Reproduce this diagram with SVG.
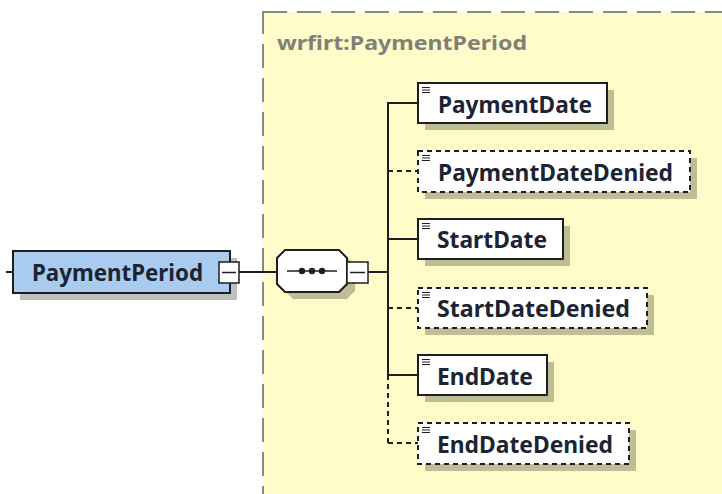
<svg xmlns="http://www.w3.org/2000/svg" width="722" height="494" viewBox="0 0 722 494">
<style>
.lbl{font-family:"Noto Sans","Liberation Sans",sans-serif;font-weight:bold;fill:#1c2433;font-size:24px}
.box{fill:#ffffff;stroke:#1e1e1e;stroke-width:2}
.opt{fill:#ffffff;stroke:#1e1e1e;stroke-width:2;stroke-dasharray:5 4}
.sh{fill:#000;opacity:0.25}
.ln{stroke:#1e1e1e;stroke-width:2;fill:none}
.dl{stroke:#1e1e1e;stroke-width:2;fill:none;stroke-dasharray:5 4}
.ic{stroke:#1e1e1e;stroke-width:1.2}
</style>
<rect width="722" height="494" fill="#ffffff"/>
<g id="type-box">
<rect x="263" y="12" width="480" height="500" fill="#fffcc9" stroke="#8a8a80" stroke-width="2" stroke-dasharray="24 10"/>
<text x="277" y="50" textLength="250" lengthAdjust="spacingAndGlyphs" style="font-family:'Noto Sans','Liberation Sans',sans-serif;font-weight:bold;font-size:20px;fill:#808078">wrfirt:PaymentPeriod</text>
</g>
<g id="connectors">
<line class="ln" x1="6" y1="272" x2="13" y2="272"/>
<line class="ln" x1="239" y1="272" x2="277" y2="272"/>
<line class="ln" x1="368" y1="272" x2="388" y2="272"/>
<line class="ln" x1="388" y1="102" x2="388" y2="375"/>
<line class="dl" x1="388" y1="375" x2="388" y2="443"/>
<line class="ln" x1="387" y1="103" x2="418" y2="103"/>
<line class="dl" x1="388" y1="171" x2="418" y2="171"/>
<line class="ln" x1="387" y1="239" x2="418" y2="239"/>
<line class="dl" x1="388" y1="308" x2="418" y2="308"/>
<line class="ln" x1="387" y1="375" x2="418" y2="375"/>
<line class="dl" x1="388" y1="443" x2="418" y2="443"/>
</g>
<g id="PaymentPeriod">
<rect class="sh" x="20" y="258" width="217" height="42"/>
<rect x="13" y="251" width="217" height="42" fill="#a9cbf0" stroke="#1e1e1e" stroke-width="2"/>
<text class="lbl" x="32" y="281" textLength="171" lengthAdjust="spacingAndGlyphs" style="font-size:23px">PaymentPeriod</text>
<rect x="219" y="262" width="20" height="21" fill="#ffffff" stroke="#1e1e1e" stroke-width="1.5"/>
<line x1="222" y1="272.5" x2="236" y2="272.5" stroke="#1e1e1e" stroke-width="1.5"/>
</g>
<g id="sequence">
<polygon class="sh" points="293,257 347,257 355,265 355,291 347,299 293,299 285,291 285,265"/>
<polygon points="285,250 339,250 347,258 347,284 339,292 285,292 277,284 277,258" fill="#ffffff" stroke="#1e1e1e" stroke-width="2"/>
<line x1="287" y1="271" x2="337" y2="271" stroke="#1e1e1e" stroke-width="1.5"/>
<circle cx="302" cy="271" r="3.2" fill="#1e1e1e"/>
<circle cx="312" cy="271" r="3.2" fill="#1e1e1e"/>
<circle cx="322" cy="271" r="3.2" fill="#1e1e1e"/>
<rect x="347" y="262" width="21" height="21" fill="#ffffff" stroke="#1e1e1e" stroke-width="1.5"/>
<line x1="350" y1="272.5" x2="365" y2="272.5" stroke="#1e1e1e" stroke-width="1.5"/>
</g>
<g id="PaymentDate">
<rect class="sh" x="425" y="90" width="189" height="40"/>
<rect class="box" x="418" y="83" width="189" height="40"/>
<path class="ic" d="M422 87.5h8M422 90h8M422 92.5h8"/>
<text class="lbl" x="438" y="113" textLength="154" lengthAdjust="spacingAndGlyphs">PaymentDate</text>
</g>
<g id="PaymentDateDenied">
<rect class="sh" x="425" y="158" width="272" height="41"/>
<rect class="opt" x="418" y="151" width="272" height="41"/>
<path class="ic" d="M422 155.5h8M422 158h8M422 160.5h8"/>
<text class="lbl" x="438" y="181" textLength="235" lengthAdjust="spacingAndGlyphs">PaymentDateDenied</text>
</g>
<g id="StartDate">
<rect class="sh" x="425" y="226" width="145" height="40"/>
<rect class="box" x="418" y="219" width="145" height="40"/>
<path class="ic" d="M422 223.5h8M422 226h8M422 228.5h8"/>
<text class="lbl" x="437" y="248" textLength="110" lengthAdjust="spacingAndGlyphs">StartDate</text>
</g>
<g id="StartDateDenied">
<rect class="sh" x="425" y="295" width="229" height="40"/>
<rect class="opt" x="418" y="288" width="229" height="40"/>
<path class="ic" d="M422 292.5h8M422 295h8M422 297.5h8"/>
<text class="lbl" x="437" y="317" textLength="193" lengthAdjust="spacingAndGlyphs">StartDateDenied</text>
</g>
<g id="EndDate">
<rect class="sh" x="425" y="362" width="129" height="40"/>
<rect class="box" x="418" y="355" width="129" height="40"/>
<path class="ic" d="M422 359.5h8M422 362h8M422 364.5h8"/>
<text class="lbl" x="437" y="385" textLength="96" lengthAdjust="spacingAndGlyphs">EndDate</text>
</g>
<g id="EndDateDenied">
<rect class="sh" x="425" y="430" width="211" height="41"/>
<rect class="opt" x="418" y="423" width="211" height="41"/>
<path class="ic" d="M422 427.5h8M422 430h8M422 432.5h8"/>
<text class="lbl" x="437" y="453" textLength="176" lengthAdjust="spacingAndGlyphs">EndDateDenied</text>
</g>
</svg>
